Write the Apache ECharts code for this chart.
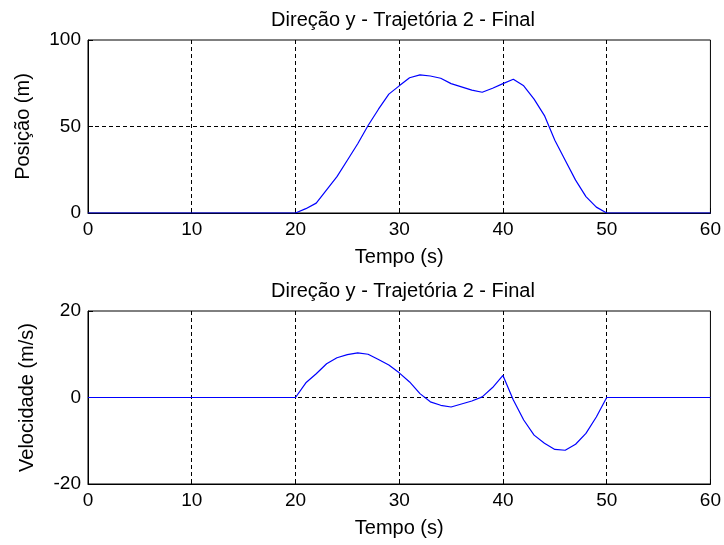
<!DOCTYPE html>
<html>
<head>
<meta charset="utf-8">
<script src="https://cdn.jsdelivr.net/npm/echarts@6/dist/echarts.min.js"></script>
<style>
  html, body { margin: 0; padding: 0; background: #fff; }
  #main { width: 724px; height: 545px; }
</style>
</head>
<body>
<div id="main"></div>
<script>
// tempo (s)
var tempo = [0, 20, 21, 22, 23, 24, 25, 26, 27, 28, 29, 30, 31, 32, 33, 34, 35,
  36, 37, 38, 39, 40, 41, 42, 43, 44, 45, 46, 47, 48, 49, 50, 60];

// posição (m)
var posicao = [0, 0, 2.5, 5.7, 13.4, 21, 30.5, 40, 50.6, 60, 68.7, 73.5, 78.2, 79.8, 79.2, 77.9, 74.8,
  72.9, 71, 69.8, 72.1, 74.8, 77.3, 73.5, 65.8, 56.3, 42, 30.5, 19, 9.5, 3.4, 0, 0];

// velocidade (m/s)
var velocidade = [0, 0, 3.4, 5.5, 7.8, 9.2, 9.9, 10.3, 10, 8.8, 7.5, 5.7, 3.6, 0.9, -1.0, -1.8, -2.2,
  -1.5, -0.8, 0.15, 2.3, 5.1, -0.6, -5.2, -8.7, -10.6, -12, -12.2, -10.8, -8.3, -4.5, 0, 0];

var titulo = 'Direção y - Trajetória 2 - Final';
var font = 'Liberation Sans, Arial, sans-serif';

function pares(ys) {
  return tempo.map(function (t, i) { return [t, ys[i]]; });
}

function lbl(size) {
  return { color: '#000', fontSize: size, fontFamily: font };
}

function eixoX(gi) {
  return {
    type: 'value', gridIndex: gi, min: 0, max: 60, interval: 10,
    name: 'Tempo (s)', nameLocation: 'middle', nameGap: 34,
    nameTextStyle: lbl(20),
    axisLine: { show: true, onZero: false, lineStyle: { color: '#000', width: 1 } },
    axisTick: { show: true, inside: true, length: 5, lineStyle: { color: '#000' } },
    splitLine: { show: true, showMinLine: false, showMaxLine: false,
      lineStyle: { color: '#000', type: [4, 3], width: 1 } },
    axisLabel: Object.assign({ margin: 7 }, lbl(19))
  };
}

function eixoY(gi, min, max, step, name, gap) {
  return {
    type: 'value', gridIndex: gi, min: min, max: max, interval: step,
    name: name, nameLocation: 'middle', nameGap: gap,
    nameTextStyle: lbl(20),
    axisLine: { show: true, onZero: false, lineStyle: { color: '#000', width: 1 } },
    axisTick: { show: true, inside: true, length: 5, lineStyle: { color: '#000' } },
    splitLine: { show: true, showMinLine: false, showMaxLine: false,
      lineStyle: { color: '#000', type: [4, 3], width: 1 } },
    axisLabel: Object.assign({ margin: 7 }, lbl(19))
  };
}

var chart = echarts.init(document.getElementById('main'), null, { renderer: 'canvas' });

var titleStyle = { color: '#000', fontSize: 20, fontWeight: 'normal', fontFamily: font };

var option = {
  backgroundColor: '#fff',
  animation: false,
  title: [
    { text: titulo, left: 398, top: 5, textAlign: 'center', textStyle: titleStyle },
    { text: titulo, left: 398, top: 276, textAlign: 'center', textStyle: titleStyle }
  ],
  grid: [
    { left: 88, right: 12, top: 40, height: 173, show: true, borderColor: '#000', borderWidth: 1, backgroundColor: 'transparent' },
    { left: 88, right: 12, top: 311, height: 173, show: true, borderColor: '#000', borderWidth: 1, backgroundColor: 'transparent' }
  ],
  xAxis: [eixoX(0), eixoX(1)],
  yAxis: [
    eixoY(0, 0, 100, 50, 'Posição (m)', 55),
    eixoY(1, -20, 20, 20, 'Velocidade (m/s)', 51)
  ],
  series: [
    {
      type: 'line', xAxisIndex: 0, yAxisIndex: 0,
      data: pares(posicao), showSymbol: false, symbol: 'none',
      lineStyle: { color: '#0000ff', width: 1.2 }, zlevel: 1, z: 10
    },
    {
      type: 'line', xAxisIndex: 1, yAxisIndex: 1,
      data: pares(velocidade), showSymbol: false, symbol: 'none',
      lineStyle: { color: '#0000ff', width: 1.2 }, zlevel: 1, z: 10
    }
  ]
};

chart.setOption(option);
</script>
</body>
</html>
